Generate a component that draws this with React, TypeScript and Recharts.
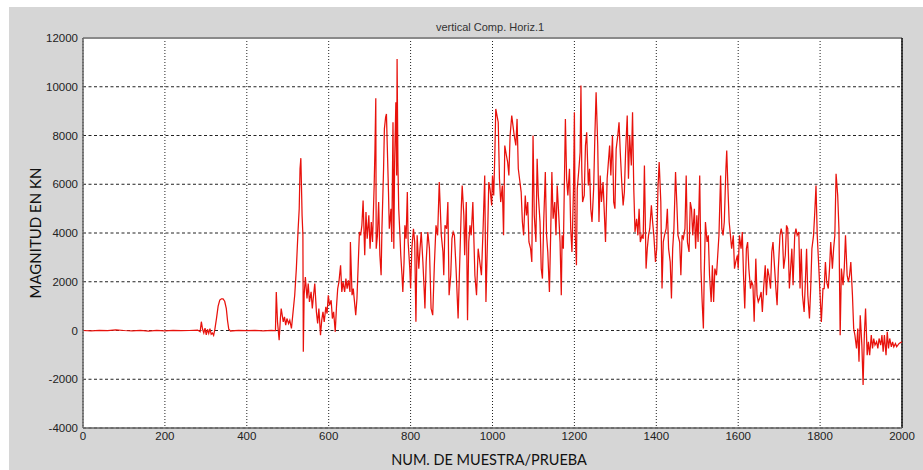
import React from 'react';
import { LineChart, Line, XAxis, YAxis, CartesianGrid, ReferenceLine } from 'recharts';

const chartTitle = 'vertical Comp. Horiz.1';
const yLabel = 'MAGNITUD EN KN';
const xLabel = 'NUM. DE MUESTRA/PRUEBA';

const xTicks = [0, 200, 400, 600, 800, 1000, 1200, 1400, 1600, 1800, 2000];
const yTicks = [-4000, -2000, 0, 2000, 4000, 6000, 8000, 10000, 12000];

// [sample number, magnitude in kN]
const quietStart: [number, number][] = [
  [0, 0], [20, -20], [40, 10], [60, -10], [80, 30], [100, 0], [120, -20], [140, 10], [160, -30],
  [180, 0], [200, -20], [220, 10], [240, -10], [260, 0], [280, 20], [286, -50], [289, 360],
  [292, 50], [295, -100], [298, 100], [301, -180], [304, 50], [307, -120], [310, 80], [313, -150],
  [316, -100], [319, -200], [322, 50], [326, 500], [330, 1000], [334, 1250], [338, 1300],
  [342, 1300], [346, 1200], [350, 900], [353, 400], [356, 50], [360, -20], [380, 10], [400, -10],
  [420, 0], [440, -20], [460, 10], [468, 0],
];

const riseSegment: [number, number][] = [
  [470, 0], [472, 1583], [475, 355], [479, -396], [482, 491], [484, 901], [489, 355], [492, 560],
  [495, 218], [498, 491], [502, 287], [505, 423], [509, 82], [513, 764], [517, 1447], [521, 2539],
  [525, 4040], [528, 4996], [530, 6634], [532, 7071], [534, 5542], [535, 4723], [537, 3904],
  [538, -874], [540, 1447], [543, 2198], [547, 1310], [550, 1925], [553, 1174], [557, 1583],
  [560, 901], [563, 1447], [566, 1925], [570, 764], [573, 287], [576, 901], [580, -191], [583, 423],
  [586, 764], [589, 355], [593, 969], [596, 696], [599, 1447], [602, 1037], [606, 1242], [609, 491],
  [612, 764], [616, -55], [619, 969], [622, 1720], [625, 1993], [629, 2675], [632, 1583], [635, 1993],
  [639, 1583], [642, 2129], [645, 1720], [648, 2061], [652, 1583], [653, 3631], [657, 1447],
  [660, 1720], [663, 1174], [666, 628], [669, 1310], [672, 2675], [675, 4040], [678, 3904],
  [681, 4313], [684, 5337], [688, 3085], [691, 4859], [694, 3767], [698, 4723], [701, 3358],
  [704, 4450], [707, 3631], [711, 5951], [713, 7453], [715, 9528], [716, 3358], [719, 3904],
  [722, 5269], [725, 3085], [728, 2266], [730, 4177], [734, 6634], [736, 8272], [739, 8750],
  [741, 8886], [743, 7589], [746, 5678], [748, 4177], [752, 4996], [754, 3631], [757, 8545],
  [759, 3358], [761, 6907], [764, 9364], [766, 6361], [767, 11138], [769, 6907], [771, 4996],
  [774, 3904], [776, 3085], [779, 2266], [781, 1583], [784, 2812], [786, 4313], [789, 3767],
  [792, 5678], [794, 3631], [798, 2539], [800, 1720], [803, 3358], [807, 4177], [810, 3631],
  [813, 355], [816, 3904], [820, 2539], [823, 3358], [826, 4040], [830, 2812], [833, 1720], [835, 901],
];

const peakSegment: [number, number][] = [
  [838, 2812], [842, 4040], [846, 3358], [850, 901], [854, 628], [858, 2675], [862, 4313],
  [866, 3904], [870, 6088], [875, 3904], [879, 3221], [881, 2266], [884, 4313], [888, 4177],
  [891, 5269], [894, 1447], [898, 2266], [901, 3767], [904, 4040], [907, 3904], [911, 2539],
  [916, 491], [920, 2812], [924, 5132], [926, 5951], [930, 4723], [932, 3085], [936, 5269],
  [939, 423], [942, 3631], [945, 4313], [948, 3904], [952, 5269], [957, 2266], [961, 1447],
  [965, 3358], [969, 2812], [973, 2266], [977, 4177], [981, 6361], [984, 1174], [988, 3904],
  [991, 6088], [994, 5815], [998, 5132], [1000, 6361], [1003, 5542], [1006, 7453], [1008, 9091],
  [1011, 8818], [1014, 8545], [1017, 6224], [1020, 5269], [1024, 5951], [1027, 3904], [1030, 7589],
  [1034, 7180], [1037, 6907], [1040, 6361], [1043, 7999], [1047, 8818], [1050, 8408], [1053, 7999],
  [1057, 7589], [1060, 8681], [1063, 6634], [1066, 6224], [1070, 5678], [1073, 4450], [1076, 3904],
  [1080, 5542], [1083, 4723], [1086, 5269], [1089, 3631], [1093, 3358], [1096, 2812], [1099, 7999],
  [1102, 4723], [1106, 3631], [1109, 7044], [1112, 5542], [1116, 4450], [1119, 2539], [1122, 2129],
  [1125, 4450], [1129, 6497], [1132, 3904], [1135, 3221], [1139, 1583], [1142, 3904], [1145, 6497],
  [1148, 4586], [1152, 5269], [1155, 3904], [1158, 5951], [1161, 4996], [1165, 3631], [1168, 1447],
  [1170, 3904], [1173, 3358], [1178, 8681], [1181, 6224], [1184, 5542], [1188, 6634], [1191, 4177],
  [1194, 3221], [1198, 5951], [1200, 8954], [1202, 3904], [1205, 2675], [1207, 5815], [1211, 6634],
  [1214, 7316], [1216, 10046],
];

const plateauSegment: [number, number][] = [
  [1218, 6634], [1220, 5269], [1224, 5542], [1227, 7589], [1230, 8135], [1234, 5951], [1237, 6634],
  [1240, 4996], [1243, 4450], [1247, 5815], [1250, 7999], [1253, 9773], [1257, 7589], [1260, 4450],
  [1263, 6361], [1266, 5269], [1270, 6088], [1273, 4859], [1276, 3631], [1280, 6224], [1283, 6907],
  [1286, 7589], [1289, 6361], [1293, 7999], [1296, 5269], [1299, 4996], [1302, 7453], [1306, 7999],
  [1309, 8545], [1312, 7316], [1316, 5951], [1319, 5132], [1322, 5678], [1325, 7316], [1329, 8818],
  [1332, 6224], [1335, 7999], [1339, 6770], [1342, 8954], [1345, 5815], [1348, 4040], [1352, 4586],
  [1355, 3904], [1358, 4996], [1361, 3631], [1365, 3904], [1368, 3767], [1371, 6770], [1375, 2539],
  [1378, 3358], [1381, 3904], [1384, 4177], [1388, 5132], [1391, 4450], [1394, 3904], [1398, 2812],
  [1401, 3358], [1404, 5815], [1407, 6907], [1411, 5269], [1414, 1720], [1417, 3631], [1420, 3904],
  [1424, 4177], [1427, 4996], [1430, 3358], [1434, 2812], [1437, 1310], [1440, 3358], [1443, 4177],
  [1447, 6497], [1450, 5269], [1453, 3904], [1457, 3631], [1460, 2266], [1463, 3904], [1466, 3767],
  [1470, 4177], [1473, 6361], [1476, 3631], [1480, 3221], [1483, 5269], [1486, 4996], [1489, 3904],
  [1493, 4996], [1496, 3358], [1499, 4723], [1502, 3631], [1506, 6361], [1509, 2539], [1512, 1174],
  [1515, 82], [1517, 2266], [1520, 4450], [1524, 3631], [1527, 3904], [1530, 2266], [1534, 1174],
  [1537, 2675], [1540, 1174], [1543, 2539], [1547, 2266], [1550, 3085], [1553, 3904], [1557, 6361],
  [1560, 4177], [1563, 3904], [1566, 4450], [1570, 6634], [1572, 7385], [1575, 5815], [1578, 4450],
  [1581, 3904], [1584, 3358], [1588, 3904], [1591, 2539], [1594, 2812], [1598, 3085],
];

const decaySegment: [number, number][] = [
  [1600, 2539], [1603, 3904], [1607, 3358], [1610, 4040], [1613, 2266], [1616, 901], [1620, 3358],
  [1623, 3631], [1626, 2539], [1630, 1720], [1633, 1993], [1636, 1856], [1639, 355], [1643, 2948],
  [1646, 1447], [1649, 1174], [1652, 1310], [1656, 1583], [1659, 764], [1662, 1720], [1666, 2675],
  [1669, 1447], [1672, 2539], [1675, 2266], [1679, 1720], [1682, 3221], [1685, 3631], [1689, 2539],
  [1692, 1720], [1695, 1037], [1698, 2539], [1702, 3904], [1705, 4177], [1708, 3904], [1711, 2539],
  [1715, 3085], [1718, 4313], [1721, 4177], [1725, 1720], [1728, 2539], [1731, 3358], [1734, 1856],
  [1738, 3904], [1741, 4177], [1744, 3904], [1748, 4040], [1751, 1720], [1754, 3358], [1757, 1447],
  [1761, 764], [1764, 1993], [1767, 3358], [1770, 1447], [1774, 491], [1777, 1720], [1780, 3358],
  [1784, 3904], [1787, 4859], [1790, 5951], [1793, 3904], [1797, 2539], [1800, 1447], [1803, 355],
  [1807, 1720], [1810, 1720], [1813, 2812], [1816, 1993], [1820, 1720], [1823, 2539], [1826, 3631],
  [1830, 2539], [1833, 3358], [1836, 3904], [1839, 6429], [1843, 5542], [1846, 4177], [1849, -191],
  [1852, 2539], [1856, 1856], [1859, 2539], [1862, 3904], [1866, 2266], [1869, 1993], [1872, 2266],
  [1875, 2812], [1879, 1447], [1882, 82], [1885, -191], [1889, -737], [1892, 82], [1895, -1283],
  [1898, 628], [1902, -601], [1905, -2239], [1908, -191], [1911, 901], [1915, -1010], [1918, -464],
  [1921, -1010], [1925, -191], [1928, -737], [1931, -328], [1934, -601], [1938, -464], [1941, -737],
  [1944, -328], [1948, -601], [1951, -191], [1954, -874], [1957, -191], [1961, -1010], [1964, -55],
  [1967, -737], [1970, -328], [1974, -669], [1977, -464], [1980, -669], [1984, -532], [1987, -669],
  [1993, -532], [2000, -464],
];

const data = [...quietStart, ...riseSegment, ...peakSegment, ...plateauSegment, ...decaySegment].map(
  ([n, v]) => ({ n, v })
);

const tickStyle = { fontFamily: '"Liberation Sans", Arial, sans-serif', fontSize: 11.5, fill: '#222' };

export default function App() {
  return (
    <div style={{ position: 'fixed', left: 0, top: 0, width: 923, height: 470, background: '#fff', overflow: 'hidden' }}>
      <div style={{ position: 'absolute', left: 9, top: 7, right: 0, bottom: 0, background: '#d6d6d6' }} />
      <div style={{ position: 'absolute', left: 0, top: 0 }}>
        <LineChart width={923} height={470} data={data} margin={{ top: 38, right: 21, bottom: 12, left: 8 }}>
          <CartesianGrid
            horizontal
            vertical={false}
            stroke="#222"
            strokeDasharray="3 2.5"
            fill="#ffffff"
            fillOpacity={1}
          />
          <CartesianGrid horizontal={false} vertical stroke="#222" strokeDasharray="1 2" />
          <XAxis
            dataKey="n"
            type="number"
            domain={[0, 2000]}
            ticks={xTicks}
            interval={0}
            tickLine={false}
            tickSize={0}
            tickMargin={4}
            height={30}
            axisLine={{ stroke: '#666', strokeWidth: 1.5 }}
            tick={tickStyle}
          />
          <YAxis
            type="number"
            domain={[-4000, 12000]}
            ticks={yTicks}
            interval={0}
            tickLine={false}
            tickSize={0}
            tickMargin={5}
            width={75}
            axisLine={{ stroke: '#666', strokeWidth: 1.5 }}
            tick={tickStyle}
          />
          <ReferenceLine y={12000} stroke="#8a8a8a" strokeWidth={2} />
          <ReferenceLine x={2000} stroke="#111" strokeWidth={1.5} />
          <Line
            type="linear"
            dataKey="v"
            stroke="#e8120c"
            strokeWidth={1.25}
            dot={false}
            isAnimationActive={false}
          />
        </LineChart>
      </div>
      <div
        style={{
          position: 'absolute',
          left: 390,
          width: 200,
          top: 20,
          textAlign: 'center',
          fontFamily: '"Liberation Sans", Arial, sans-serif',
          fontSize: 11,
          color: '#333',
          lineHeight: '14px',
        }}
      >
        {chartTitle}
      </div>
      <div
        style={{
          position: 'absolute',
          left: 35 - 100,
          top: 233 - 10,
          width: 200,
          height: 20,
          lineHeight: '20px',
          textAlign: 'center',
          transform: 'rotate(-90deg)',
          fontFamily: 'Lato, sans-serif',
          fontSize: 15,
          color: '#111',
          whiteSpace: 'nowrap',
        }}
      >
        {yLabel}
      </div>
      <div
        style={{
          position: 'absolute',
          left: 389,
          width: 200,
          top: 451,
          textAlign: 'center',
          fontFamily: 'Lato, sans-serif',
          fontSize: 14.5,
          color: '#111',
          whiteSpace: 'nowrap',
          lineHeight: '18px',
        }}
      >
        {xLabel}
      </div>
    </div>
  );
}
